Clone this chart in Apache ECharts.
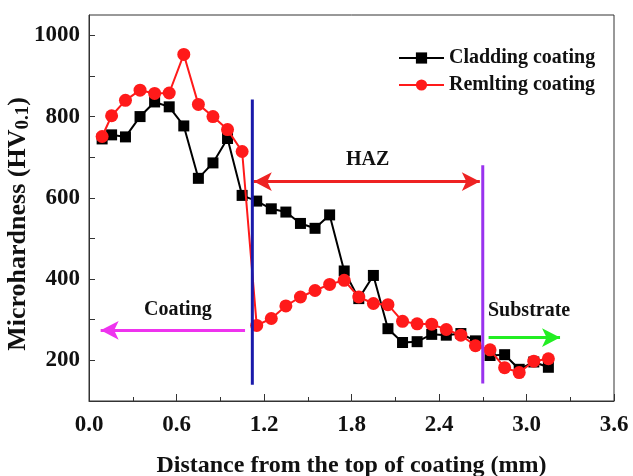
<!DOCTYPE html>
<html>
<head>
<meta charset="utf-8">
<script src="https://cdn.jsdelivr.net/npm/echarts@6/dist/echarts.min.js"></script>
<style>
  html, body { margin: 0; padding: 0; background: #fff; }
  #chart { width: 633px; height: 476px; }
</style>
</head>
<body>
<div id="chart"></div>
<script>
// 测点位置 (mm)
const distances = [0.09, 0.155, 0.25, 0.35, 0.45, 0.55, 0.65, 0.75, 0.85, 0.95, 1.05, 1.15, 1.25, 1.35, 1.45, 1.55,
  1.65, 1.75, 1.85, 1.95, 2.05, 2.15, 2.25, 2.35, 2.45, 2.55, 2.65, 2.75, 2.85, 2.95, 3.05, 3.15]
// 熔覆层硬度
const claddingValues = [745, 755, 750, 800, 836, 824, 777, 648, 686, 746, 606, 592, 573, 565, 537, 525,
  558, 420, 352, 409, 278, 244, 246, 264, 262, 266, 248, 212, 214, 178, 196, 183]
// 重熔层硬度
const remeltValues = [751, 802, 840, 865, 857, 858, 953, 830, 800, 768, 714, 286, 303, 334, 356, 372,
  387, 397, 356, 340, 337, 296, 290, 289, 276, 262, 236, 226, 182, 170, 198, 204]
const seriesNames = ['Cladding coating', 'Remlting coating']
// 分区界线 [x, y起, y止]
const coatingBoundary = [1.12, 140, 842]
const substrateBoundary = [2.70, 143, 680]
// 箭头 [x起, x止, y]
const hazArrow = [1.13, 2.68, 640]
const coatingArrow = [1.07, 0.08, 274]
const substrateArrow = [2.74, 3.23, 256]

const font = 'Liberation Serif, Times New Roman, serif'
const chart = echarts.init(document.getElementById('chart'))

const pairs = (xs, ys) => xs.map((x, i) => [x, ys[i]])

const arrowLine = (arr, color, symbols) => ({
  silent: true,
  symbol: symbols,
  symbolSize: [14, 18],
  label: { show: false },
  lineStyle: { color: color, width: 3, type: 'solid' },
  data: [[{ coord: [arr[0], arr[2]] }, { coord: [arr[1], arr[2]] }]]
})

const option = {
  animation: false,
  backgroundColor: '#fff',
  grid: {
    left: 89,
    right: 19,
    top: 15,
    bottom: 75,
    containLabel: false,
    outerBoundsMode: 'none',
    show: true,
    borderColor: '#333',
    borderWidth: 1
  },
  legend: {
    orient: 'vertical',
    left: 393,
    top: 43,
    itemWidth: 45,
    itemHeight: 14,
    itemGap: 7,
    data: seriesNames,
    textStyle: { fontFamily: font, fontWeight: 'bold', fontSize: 20, color: '#111' }
  },
  xAxis: {
    type: 'value',
    min: 0,
    max: 3.6,
    interval: 0.6,
    name: 'Distance from the top of coating (mm)',
    nameLocation: 'middle',
    nameGap: 53,
    nameMoveOverlap: false,
    nameTextStyle: { fontFamily: font, fontWeight: 'bold', fontSize: 24, color: '#111' },
    axisLine: { lineStyle: { color: '#333', width: 1 } },
    axisTick: { inside: true, length: 7, lineStyle: { color: '#333' } },
    minorTick: { show: true, splitNumber: 2, length: 4, lineStyle: { color: '#333' } },
    splitLine: { show: false },
    axisLabel: {
      margin: 13,
      fontFamily: font,
      fontWeight: 'bold',
      fontSize: 23,
      color: '#111',
      formatter: v => v.toFixed(1)
    }
  },
  yAxis: {
    type: 'value',
    min: 100,
    max: 1050,
    interval: 100,
    name: 'Microhardness (HV{sub|0.1})',
    nameLocation: 'middle',
    nameGap: 56,
    nameMoveOverlap: false,
    nameTextStyle: {
      fontFamily: font,
      fontWeight: 'bold',
      fontSize: 26,
      color: '#111',
      padding: [0, 32, 0, 0],
      rich: {
        sub: { fontFamily: font, fontWeight: 'bold', fontSize: 19, color: '#111', verticalAlign: 'bottom', padding: [10, 0, 0, 0] }
      }
    },
    axisLine: { show: true, lineStyle: { color: '#333', width: 1 } },
    axisTick: { inside: true, length: 6, lineStyle: { color: '#333' } },
    splitLine: { show: false },
    axisLabel: {
      margin: 9,
      showMaxLabel: false,
      fontFamily: font,
      fontWeight: 'bold',
      fontSize: 23,
      color: '#111',
      formatter: v => (v % 200 === 0 && v <= 1000 ? String(v) : '')
    }
  },
  series: [
    {
      name: seriesNames[0],
      type: 'line',
      data: pairs(distances, claddingValues),
      symbol: 'rect',
      symbolSize: 11,
      color: '#000',
      lineStyle: { color: '#000', width: 2 },
      itemStyle: { color: '#000' },
      z: 3
    },
    {
      name: seriesNames[1],
      type: 'line',
      data: pairs(distances, remeltValues),
      symbol: 'circle',
      symbolSize: 13,
      color: '#ff1a1a',
      lineStyle: { color: '#ff1a1a', width: 2 },
      itemStyle: { color: '#ff1a1a' },
      z: 4,
      markLine: arrowLine(hazArrow, '#ee2222', ['arrow', 'arrow'])
    },
    {
      name: 'coatingBoundary',
      type: 'line',
      data: [[coatingBoundary[0], coatingBoundary[1]], [coatingBoundary[0], coatingBoundary[2]]],
      symbol: 'none',
      lineStyle: { color: '#1a1aaa', width: 3 },
      z: 5,
      markLine: arrowLine(coatingArrow, '#ee33ee', ['none', 'arrow'])
    },
    {
      name: 'substrateBoundary',
      type: 'line',
      data: [[substrateBoundary[0], substrateBoundary[1]], [substrateBoundary[0], substrateBoundary[2]]],
      symbol: 'none',
      lineStyle: { color: '#9933ee', width: 3 },
      z: 5,
      markLine: arrowLine(substrateArrow, '#22ee22', ['none', 'arrow'])
    }
  ],
  graphic: [
    { type: 'text', left: 346, top: 150, style: { text: 'HAZ', font: 'bold 20px ' + font, fill: '#111' } },
    { type: 'text', left: 144, top: 300, style: { text: 'Coating', font: 'bold 20px ' + font, fill: '#111' } },
    { type: 'text', left: 488, top: 301, style: { text: 'Substrate', font: 'bold 20px ' + font, fill: '#111' } }
  ]
}

chart.setOption(option)
</script>
</body>
</html>
